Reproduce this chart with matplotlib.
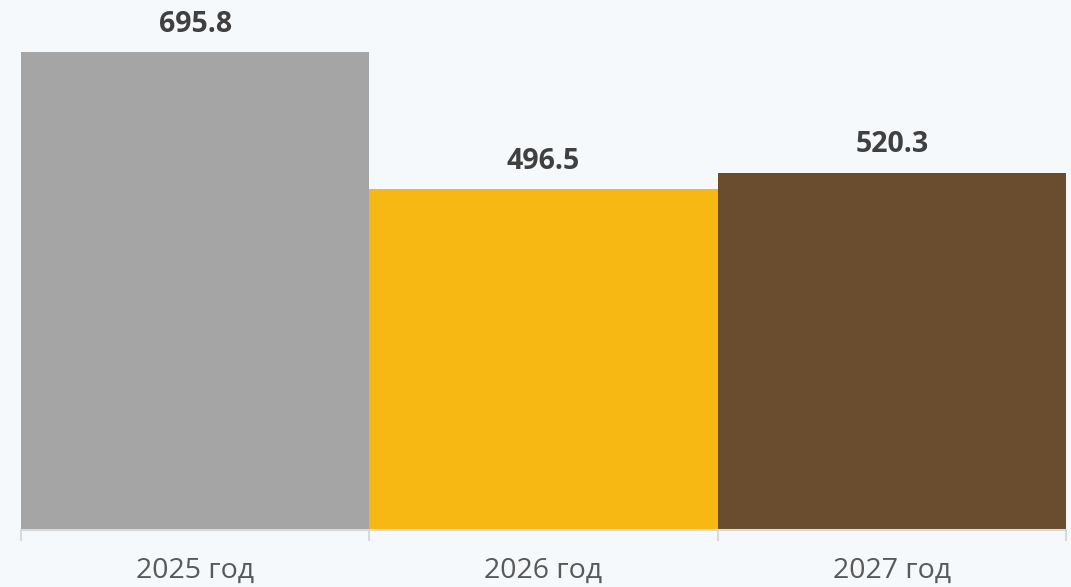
import matplotlib.pyplot as plt

years = ["2025 год", "2026 год", "2027 год"]
values = [695.8, 496.5, 520.3]
colors = ["#A5A5A5", "#F8B813", "#6A4C2E"]

bg = "#F5F9FC"

fig = plt.figure(figsize=(10.71, 5.87), dpi=100, facecolor=bg)
ax = fig.add_axes([21 / 1071, 57 / 587, 1045 / 1071, 530 / 587], facecolor=bg)

x = list(range(len(values)))
ax.bar(x, values, width=1.0, color=colors, zorder=2)

# value labels above the bars
for xi, v in zip(x, values):
    ax.annotate(f"{v:.1f}", (xi, v), xytext=(0, 14.5), textcoords="offset points",
                ha="center", va="baseline", fontsize=20.5, fontweight="bold",
                family="Open Sans", color="#404040")

ax.set_xlim(-0.5, len(values) - 0.5)
ax.set_ylim(0, 771.5)

for s in ["top", "left", "right"]:
    ax.spines[s].set_visible(False)
ax.spines["bottom"].set_color("#D9D9D9")
ax.spines["bottom"].set_linewidth(1.5)
ax.spines["bottom"].set_zorder(3)

ax.set_yticks([])
ax.set_xticks(x)
ax.set_xticklabels(years, fontsize=20.5, family="Open Sans", color="#595959")
ax.tick_params(axis="x", which="major", length=0, pad=19)
ax.set_xticks([i - 0.5 for i in range(len(values) + 1)], minor=True)
ax.tick_params(axis="x", which="minor", length=8, width=1.5, color="#D9D9D9")

fig.savefig("out.png", dpi=100, facecolor=bg)
